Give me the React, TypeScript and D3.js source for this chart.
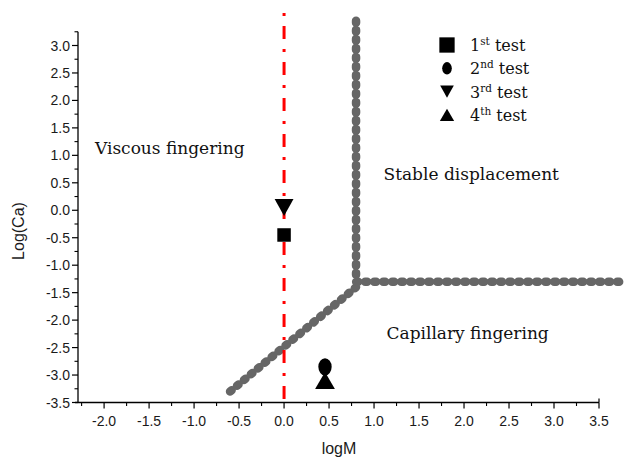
import React from "react";
import * as d3 from "d3";

// ---- data ----
const xTickValues = [-2.0, -1.5, -1.0, -0.5, 0.0, 0.5, 1.0, 1.5, 2.0, 2.5, 3.0, 3.5];
const yTickValues = [-3.5, -3.0, -2.5, -2.0, -1.5, -1.0, -0.5, 0.0, 0.5, 1.0, 1.5, 2.0, 2.5, 3.0];

const testOrdinals = ["1", "2", "3", "4"];
const testSuffixes = ["st", "nd", "rd", "th"];
const testSymbols = ["square", "ellipse", "triangleDown", "triangleUp"];
const testLogM = [0.0, 0.455, 0.0, 0.455];
const testLogCa = [-0.45, -2.85, 0.05, -3.1];

const diagonalLogM = [-0.6, 0.8];
const diagonalLogCa = [-3.3, -1.4];
const stableLogM = [0.8, 0.8, 3.8];
const stableLogCa = [3.45, -1.3, -1.3];

const criticalLogM = 0.0;
const regionLabels = ["Viscous fingering", "Stable displacement", "Capillary fingering"];
const regionLogM = [-1.27, 2.08, 2.04];
const regionLogCa = [1.12, 0.65, -2.26];

// ---- layout ----
const W = 632;
const H = 459;
const x = d3.scaleLinear().domain([-2.29, 3.5]).range([78, 599]);
const y = d3.scaleLinear().domain([-3.5, 3.0]).range([402.5, 45.5]);
const yTop = y(3.25);

const serif = "'DejaVu Serif', serif";
const sans = "'Liberation Sans', Arial, sans-serif";

function Marker({ kind, cx, cy, s }: { kind: string; cx: number; cy: number; s: number }) {
  if (kind === "square") {
    return <rect x={cx - s * 0.45} y={cy - s * 0.45} width={s * 0.9} height={s * 0.9} fill="#000" />;
  }
  if (kind === "ellipse") {
    return <ellipse cx={cx} cy={cy} rx={s * 0.37} ry={s * 0.48} fill="#000" />;
  }
  if (kind === "triangleDown") {
    const h = s * 0.95;
    const w = s * 1.05;
    return <path d={`M${cx - w / 2},${cy - h / 2}L${cx + w / 2},${cy - h / 2}L${cx},${cy + h / 2}Z`} fill="#000" />;
  }
  const h = s * 0.95;
  const w = s * 1.1;
  return <path d={`M${cx - w / 2},${cy + h / 2}L${cx + w / 2},${cy + h / 2}L${cx},${cy - h / 2}Z`} fill="#000" />;
}

export default function App() {
  const line = d3
    .line<[number, number]>()
    .x((d) => x(d[0]))
    .y((d) => y(d[1]));
  const diag = line(diagonalLogM.map((m, i) => [m, diagonalLogCa[i]] as [number, number])) || "";
  const stable = line(stableLogM.map((m, i) => [m, stableLogCa[i]] as [number, number])) || "";

  const xMinor = d3.range(-2.25, 3.5, 0.5);
  const yMinor = d3.range(-3.25, 3.26, 0.5);

  return (
    <svg width={W} height={H} style={{ position: "absolute", left: 0, top: 0 }}>
      <rect width={W} height={H} fill="#fff" />

      {/* axes */}
      <line x1={x.range()[0]} x2={x.range()[0]} y1={yTop} y2={y(-3.5)} stroke="#000" strokeWidth={1.3} />
      <line x1={x.range()[0] - 3} x2={x(3.5)} y1={y(-3.5)} y2={y(-3.5)} stroke="#000" strokeWidth={1.3} />

      {yTickValues.map((v) => (
        <g key={"yt" + v}>
          <line x1={x.range()[0] - 6} x2={x.range()[0]} y1={y(v)} y2={y(v)} stroke="#000" strokeWidth={1.2} />
          <text x={x.range()[0] - 8} y={y(v) + 5} textAnchor="end" fontFamily={sans} fontSize={14} fill="#1a1a1a">
            {v.toFixed(1)}
          </text>
        </g>
      ))}
      {yMinor.map((v) => (
        <line key={"ym" + v} x1={x.range()[0] - 3.5} x2={x.range()[0]} y1={y(v)} y2={y(v)} stroke="#000" strokeWidth={1.1} />
      ))}
      {xTickValues.map((v) => (
        <g key={"xt" + v}>
          <line x1={x(v)} x2={x(v)} y1={y(-3.5)} y2={y(-3.5) + 6} stroke="#000" strokeWidth={1.2} />
          <text x={x(v)} y={y(-3.5) + 23} textAnchor="middle" fontFamily={sans} fontSize={14} fill="#1a1a1a">
            {v.toFixed(1)}
          </text>
        </g>
      ))}
      {xMinor.map((v) => (
        <line key={"xm" + v} x1={x(v)} x2={x(v)} y1={y(-3.5)} y2={y(-3.5) + 3.5} stroke="#000" strokeWidth={1.1} />
      ))}
      <line x1={x(3.5)} x2={x(3.5)} y1={y(-3.5) - 4} y2={y(-3.5)} stroke="#000" strokeWidth={1.2} />

      <text x={339} y={454} textAnchor="middle" fontFamily={sans} fontSize={16} fill="#1a1a1a">
        logM
      </text>
      <text
        transform={`translate(24,231) rotate(-90)`}
        textAnchor="middle"
        fontFamily={sans}
        fontSize={16}
        fill="#1a1a1a"
      >
        Log(Ca)
      </text>

      {/* boundaries */}
      <path d={diag} fill="none" stroke="#666" strokeWidth={8.5} strokeLinecap="round" strokeDasharray="2 7" />
      <path d={stable} fill="none" stroke="#666" strokeWidth={8.5} strokeLinecap="round" strokeDasharray="2 7" />

      {/* critical line */}
      <line
        x1={x(criticalLogM)}
        x2={x(criticalLogM)}
        y1={13}
        y2={y(-3.5)}
        stroke="#ff0000"
        strokeWidth={3}
        strokeDasharray="3 10 13 10"
      />

      {/* test points */}
      {testLogM.map((m, i) => (
        <Marker key={"p" + i} kind={testSymbols[i]} cx={x(m)} cy={y(testLogCa[i])} s={i === 0 ? 15 : 18} />
      ))}

      {/* region labels */}
      {regionLabels.map((t, i) => (
        <text key={t} x={x(regionLogM[i])} y={y(regionLogCa[i]) + 5} textAnchor="middle" fontFamily={serif} fontSize={17} fill="#111">
          {t}
        </text>
      ))}

      {/* legend */}
      {testOrdinals.map((o, i) => (
        <g key={"lg" + i}>
          <Marker kind={testSymbols[i]} cx={447} cy={45 + i * 23.3} s={i === 0 ? 17 : 13} />
          <text x={470} y={51 + i * 23.3} fontFamily={serif} fontSize={16} fill="#111">
            {o}
            <tspan fontSize={10.5} dy={-6}>
              {testSuffixes[i]}
            </tspan>
            <tspan dy={6}> test</tspan>
          </text>
        </g>
      ))}
    </svg>
  );
}
